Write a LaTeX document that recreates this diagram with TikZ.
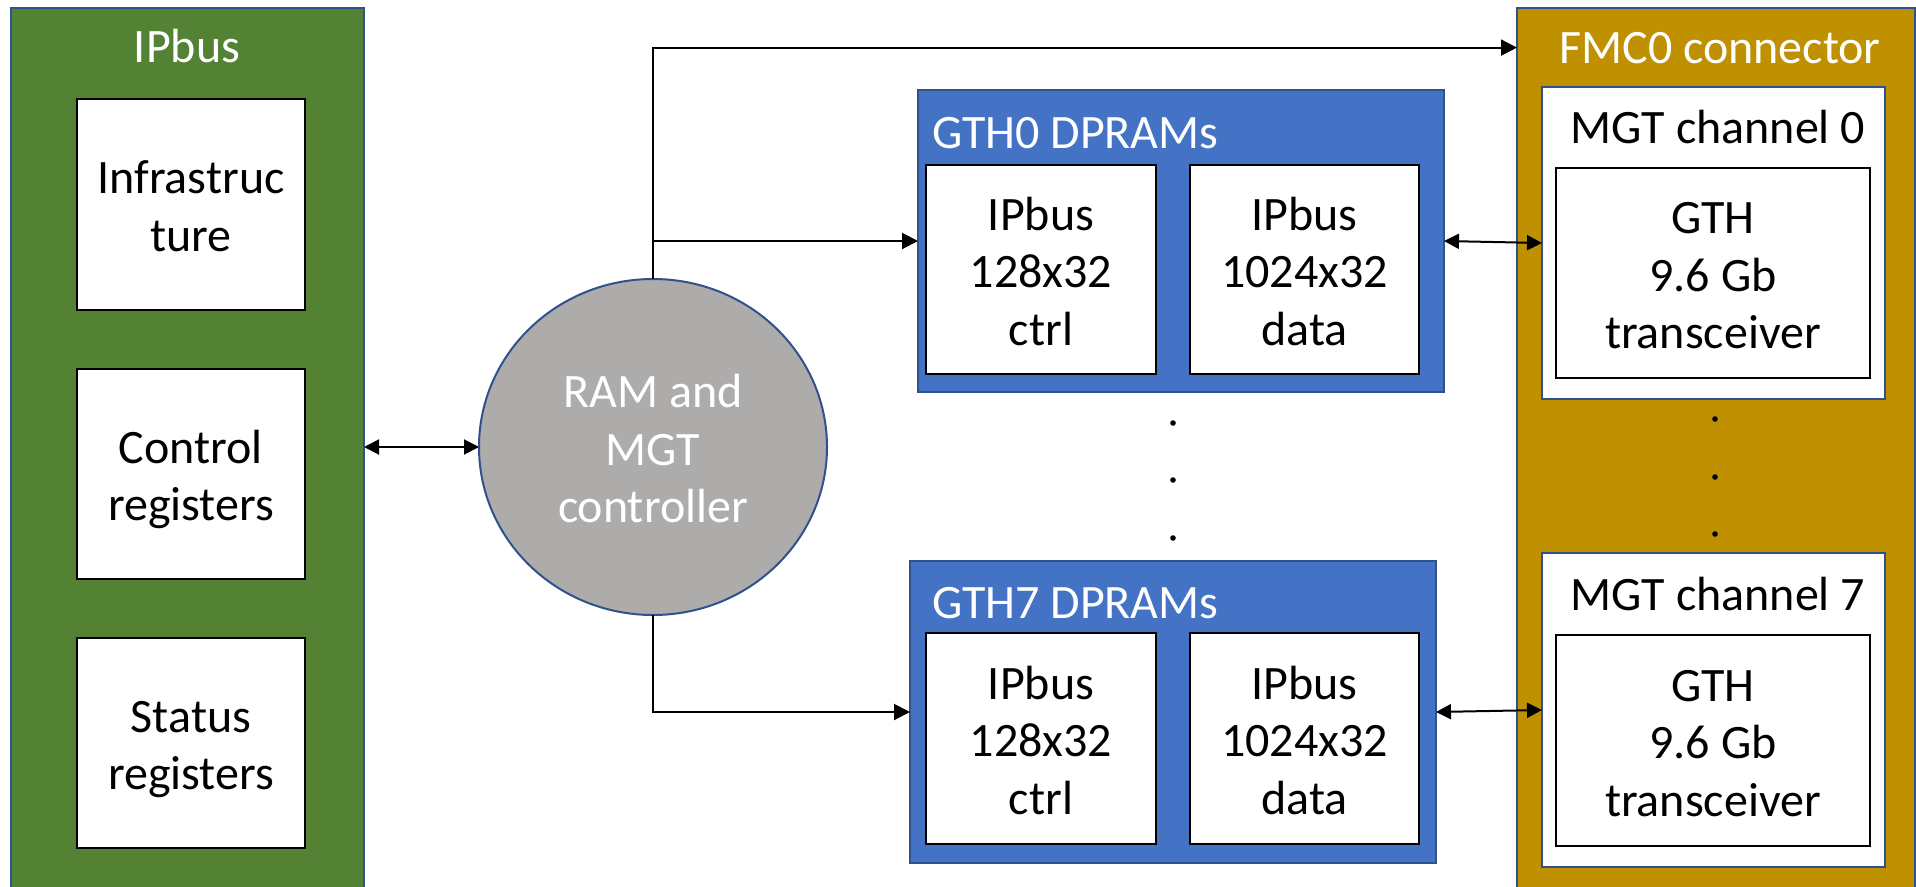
\documentclass[tikz,border=0pt]{standalone}
\usepackage{fontspec}
\setmainfont{Carlito}
\usetikzlibrary{shapes.geometric,arrows.meta}
\definecolor{grn}{HTML}{548235}
\definecolor{blu}{HTML}{4472C4}
\definecolor{gld}{HTML}{BF9000}
\definecolor{gry}{HTML}{AEABAB}
\definecolor{bdr}{HTML}{2F528F}
\newcommand\vt{\rule{0pt}{50pt}}
\newcommand\vb{\rule[-14pt]{0pt}{14pt}}
\begin{document}
\begin{tikzpicture}[x=1pt,y=-1pt,
  every node/.style={inner sep=0pt, outer sep=0pt, font=\fontsize{48}{57.5}\selectfont},
  cont/.style={draw=bdr, line width=1.5pt},
  wbox/.style={draw=black, line width=2.6pt, fill=white, align=center},
  chan/.style={draw=bdr, line width=2pt, fill=white, minimum width=343},
  ttl/.style={text=white},
  conn/.style={line width=2pt, draw=black},
  tipb/.tip={Triangle[length=16pt,width=16pt]},
  tips/.tip={Triangle[length=15pt,width=15pt]}
]
\useasboundingbox (0,0) rectangle (1916,886);

% IPbus block
\node[cont, fill=grn, minimum width=353, minimum height=900, anchor=north west] (ipbus) at (11,8) {};
\node[ttl, anchor=base] (ipbust) at (187,62) {IPbus};
\node[wbox, minimum width=228, minimum height=211] (infra) at (191,204.5) {\vt Infrastruc\\ture\vb};
\node[wbox, minimum width=228, minimum height=210] (ctrlreg) at (191,474) {\vt Control\\registers\vb};
\node[wbox, minimum width=228, minimum height=210] (statreg) at (191,743) {\vt Status\\registers\vb};

% controller
\node[ellipse, draw=bdr, line width=2pt, fill=gry, minimum width=348, minimum height=336,
  text=white, align=center] (ctrlr) at (653,447) {\vt RAM and\\MGT\\controller\vb};

% GTH0 DPRAMs
\node[cont, fill=blu, minimum width=526, minimum height=302] (dpram0) at (1181,241) {};
\node[ttl, anchor=base west] (dpram0t) at (932,148) {GTH0 DPRAMs};
\node[wbox, minimum width=230, minimum height=209] (ctrl0) at (1041,269.5) {\vt IPbus\\128x32\\ctrl\vb};
\node[wbox, minimum width=229, minimum height=209] (data0) at (1304.5,269.5) {\vt IPbus\\1024x32\\data\vb};

% GTH7 DPRAMs
\node[cont, fill=blu, minimum width=526, minimum height=302] (dpram7) at (1173,712) {};
\node[ttl, anchor=base west] (dpram7t) at (932,618) {GTH7 DPRAMs};
\node[wbox, minimum width=230, minimum height=211] (ctrl7) at (1041,738.5) {\vt IPbus\\128x32\\ctrl\vb};
\node[wbox, minimum width=229, minimum height=211] (data7) at (1304.5,738.5) {\vt IPbus\\1024x32\\data\vb};

% dots between DPRAMs
\fill (1173,423) circle (2.8pt);
\fill (1173,480) circle (2.8pt);
\fill (1173,538) circle (2.8pt);

% FMC0 connector
\node[cont, fill=gld, minimum width=398, minimum height=900, anchor=north west] (fmc) at (1517,8) {};
\node[ttl, anchor=base] (fmct) at (1720,63) {FMC0 connector};
\node[chan, minimum height=312] (mgt0) at (1713.5,243) {};
\node[anchor=base] (mgt0t) at (1718,143) {MGT channel 0};
\node[wbox, minimum width=314, minimum height=210] (gth0) at (1713,273) {\vt GTH\\9.6 Gb\\transceiver\vb};
\node[chan, minimum height=314] (mgt7) at (1713.5,710) {};
\node[anchor=base] (mgt7t) at (1718,610) {MGT channel 7};
\node[wbox, minimum width=314, minimum height=211] (gth7) at (1713,740.5) {\vt GTH\\9.6 Gb\\transceiver\vb};

\fill (1715,419) circle (2.8pt);
\fill (1715,477) circle (2.8pt);
\fill (1715,534) circle (2.8pt);

% connectors
\draw[conn, -tipb] (ctrlr.north) |- (fmc.west |- fmct.center);
\draw[conn, -tipb] (ctrlr.north) |- (dpram0.west);
\draw[conn, -tipb] (ctrlr.south) |- (dpram7.west);
\draw[conn, tips-tips] (ctrlr.west -| ipbus.east) -- (ctrlr.west);
\draw[conn, tips-tips] (dpram0.east) -- (mgt0.west);
\draw[conn, tips-tips] (dpram7.east) -- (mgt7.west);
\end{tikzpicture}
\end{document}
